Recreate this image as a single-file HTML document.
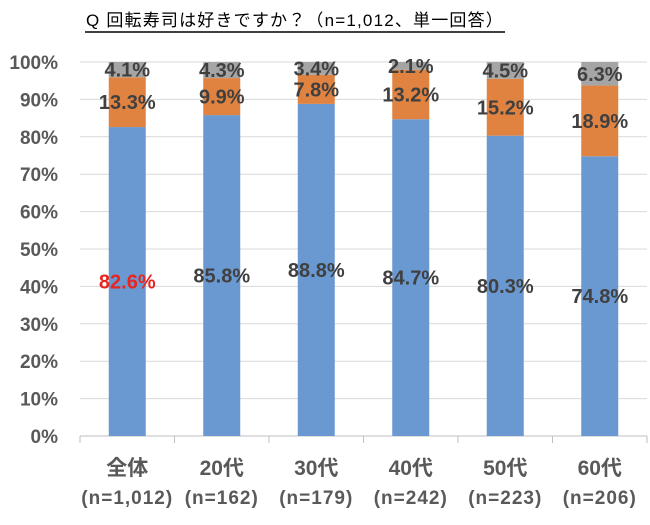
<!DOCTYPE html>
<html><head><meta charset="utf-8"><style>
body{margin:0;background:#fff;width:650px;height:520px;overflow:hidden}
svg text{font-family:"Liberation Sans","Noto Sans CJK JP",sans-serif}
</style></head><body>
<svg width="650" height="520">
<text x="86" y="26" font-size="17" letter-spacing="1.2" textLength="418" fill="#000">Q 回転寿司は好きですか？（n=1,012、単一回答）</text>
<line x1="85" y1="32" x2="505" y2="32" stroke="#000" stroke-width="1.5"/>
<g id="grid"></g><g id="bars"></g><g id="labels"></g>
</svg>
<script>
const categories=["全体","20代","30代","40代","50代","60代"];
const samples=["(n=1,012)","(n=162)","(n=179)","(n=242)","(n=223)","(n=206)"];
const like=[82.6,85.8,88.8,84.7,80.3,74.8];
const neutral=[13.3,9.9,7.8,13.2,15.2,18.9];
const dislike=[4.1,4.3,3.4,2.1,4.5,6.3];
const ticks=[0,10,20,30,40,50,60,70,80,90,100];
const NS="http://www.w3.org/2000/svg";
const y=v=>436-v*3.74, x0=80, cw=94.5, bw=37;
const grid=document.getElementById('grid'),bars=document.getElementById('bars'),labels=document.getElementById('labels');
function mk(p,tag,a,t){const e=document.createElementNS(NS,tag);for(const k in a)e.setAttribute(k,a[k]);if(t!==undefined)e.textContent=t;p.appendChild(e);return e;}
ticks.forEach(t=>{
  const l=mk(grid,'line',{x1:x0,x2:647,y1:y(t),y2:y(t),stroke:t===0?'#bfbfbf':'#d9d9d9','stroke-width':1});
  
  
  const tx=mk(grid,'text',{x:58,y:y(t)+7,'text-anchor':'end','font-size':19,'font-weight':'bold',fill:'#595959'},t+'%');
  
  
});
for(let i=0;i<=categories.length;i++){
  const l=mk(grid,'line',{x1:x0+i*cw,x2:x0+i*cw,y1:436,y2:443,stroke:'#bfbfbf'});
  
  
}
const series=[[like,'#6a98d0'],[neutral,'#e08240'],[dislike,'#a5a5a5']];
categories.forEach((c,i)=>{
  const cx=x0+cw*(i+0.5);let base=0;
  series.forEach(([arr,col],s)=>{
    const v=arr[i];
    const r=mk(bars,'rect',{x:cx-bw/2,y:y(base+v),width:bw,height:v*3.74,fill:col});
    
    
    const t=mk(labels,'text',{x:cx,y:y(base+v/2)+7,'text-anchor':'middle','font-size':20,'font-weight':'bold',fill:(s===0&&i===0)?'#e8251f':'#404040'},v.toFixed(1)+'%');
    
    
    base+=v;
  });
  const a=mk(labels,'text',{x:cx,y:475,'text-anchor':'middle','font-size':21,'font-weight':'bold',fill:'#595959'},c);
  
  
  const b=mk(labels,'text',{x:cx,y:504,'text-anchor':'middle','font-size':19,'font-weight':'bold','letter-spacing':1,fill:'#595959'},samples[i]);
  
  
});
</script>
</body></html>
